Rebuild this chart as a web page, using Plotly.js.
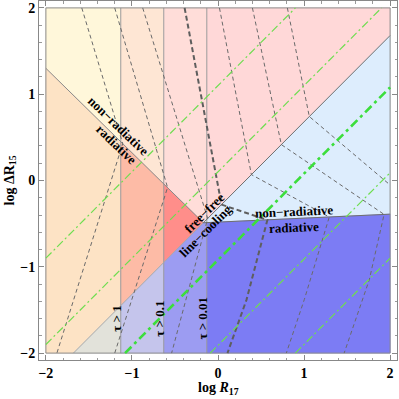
<!DOCTYPE html>
<html><head><meta charset="utf-8">
<script src="https://cdn.plot.ly/plotly-3.0.1.min.js"></script>
<style>html,body{margin:0;padding:0;background:#fff}#chart{width:399px;height:399px}</style>
</head><body><div id="chart"></div>
<script>
// ---- values (x = log R17, y = log ΔR15) ----
const boxLo = -2, boxHi = 2;
const tickVals = [-2, -1, 0, 1, 2];
const tickLabels = ['\u22122', '\u22121', '0', '1', '2'];
const tauX = [-1.13, -0.63, -0.13];
const tauLabels = ['τ > 1', 'τ > 0.1', 'τ > 0.01'];
const nonRadLeftX = [-2.0, -0.17];
const nonRadLeftY = [1.30, -0.49];
const diagX = [-1.68, 2.0];
const diagY = [-2.0, 1.68];
const nonRadRightX = [-0.17, 2.0];
const nonRadRightY = [-0.49, -0.39];

// grey dashed contours
const contourX = [
  [-1.583, -1.107, -1.872],
  [-1.20, -0.586, -1.20],
  [-0.875, -0.12, -0.539],
  [0.017, 0.388, 1.293, 1.003, 0.794],
  [0.40, 0.736, 1.930, 1.757, 1.466],
  [0.806, 1.061, 2.0]
];
const contourY = [
  [2.0, 0.427, -2.0],
  [2.0, -0.081, -2.0],
  [2.0, -0.44, -2.0],
  [2.0, 0.068, -0.423, -1.379, -2.0],
  [2.0, 0.416, -0.393, -1.154, -2.0],
  [2.0, 0.741, -0.052]
];
const boldContourX = [-0.388, 0.041, 0.574, 0.330, 0.110];
const boldContourY = [2.0, -0.279, -0.458, -1.386, -2.0];

// green dash-dot lines
const greenX = [[-2.0, 0.9], [-2.0, 1.9], [-0.09, 2.0], [0.9, 2.0]];
const greenY = [[-0.9, 2.0], [-1.9, 2.0], [-2.0, 0.09], [-2.0, -0.9]];
const boldGreenX = [-1.08, 2.0];
const boldGreenY = [-2.0, 1.08];

// region colours
const regionColors = {
  yellow: '#FFF7DA', orange: '#FDE3C5', grey: '#E2E2DA',
  peach: '#FEE6D4', salmon: '#FDBBA6', lavender: '#C5C5EC',
  pinkTop: '#FFDDD9', red: '#FF8E8A', midBlue: '#9C9CF2',
  pink: '#FFD8D8', lightBlue: '#DDEDFD', blue: '#7C7CF4'
};

// ---- build ----
function lin(xs, ys, x) { return ys[0] + (ys[1] - ys[0]) * (x - xs[0]) / (xs[1] - xs[0]); }
const NR = x => lin(nonRadLeftX, nonRadLeftY, x);
const D = x => lin(diagX, diagY, x);
const HR = x => lin(nonRadRightX, nonRadRightY, x);
const [xa, xb, xc] = tauX;
const Tx = nonRadLeftX[1], Ty = nonRadLeftY[1];
const lo = boxLo, hi = boxHi;

const polys = [
  ['yellow', [[lo, NR(lo)], [xa, NR(xa)], [xa, hi], [lo, hi]]],
  ['orange', [[lo, NR(lo)], [xa, NR(xa)], [xa, D(xa)], [diagX[0], lo], [lo, lo]]],
  ['grey', [[diagX[0], lo], [xa, D(xa)], [xa, lo]]],
  ['peach', [[xa, NR(xa)], [xb, NR(xb)], [xb, hi], [xa, hi]]],
  ['salmon', [[xa, NR(xa)], [xb, NR(xb)], [xb, D(xb)], [xa, D(xa)]]],
  ['lavender', [[xa, D(xa)], [xb, D(xb)], [xb, lo], [xa, lo]]],
  ['pinkTop', [[xb, NR(xb)], [Tx, Ty], [xc, D(xc)], [xc, hi], [xb, hi]]],
  ['red', [[xb, NR(xb)], [Tx, Ty], [xb, D(xb)]]],
  ['lightBlue', [[Tx, Ty], [xc, D(xc)], [xc, HR(xc)]]],
  ['midBlue', [[xb, D(xb)], [Tx, Ty], [xc, HR(xc)], [xc, lo], [xb, lo]]],
  ['pink', [[xc, D(xc)], [hi, D(hi)], [hi, hi], [xc, hi]]],
  ['lightBlue', [[xc, D(xc)], [hi, D(hi)], [hi, HR(hi)], [xc, HR(xc)]]],
  ['blue', [[xc, HR(xc)], [hi, HR(hi)], [hi, lo], [xc, lo]]]
];

const traces = [];
polys.forEach(([name, pts]) => {
  traces.push({
    type: 'scatter', mode: 'lines', fill: 'toself',
    x: pts.map(p => p[0]).concat([pts[0][0]]),
    y: pts.map(p => p[1]).concat([pts[0][1]]),
    fillcolor: regionColors[name],
    line: { width: 0.6, color: regionColors[name] },
    hoverinfo: 'skip', showlegend: false
  });
});

function line(x, y, color, width, dash) {
  traces.push({ type: 'scatter', mode: 'lines', x: x, y: y,
    line: { color: color, width: width, dash: dash || 'solid' },
    hoverinfo: 'skip', showlegend: false });
}
// region boundaries
tauX.forEach(v => line([v, v], [lo, hi], '#9c9c9c', 1));
line(nonRadLeftX, nonRadLeftY, '#8a8a8a', 1);
line([diagX[0], Tx], [diagY[0], Ty], '#a8a8a8', 1);
line([Tx, diagX[1]], [Ty, diagY[1]], '#6e6e6e', 1);
line(nonRadRightX, nonRadRightY, '#6e6e6e', 1);
line([lo, hi, hi, lo, lo], [lo, lo, hi, hi, lo], '#8a8a8a', 1);

// contours
contourX.forEach((cx, i) => line(cx, contourY[i], '#6a6a6a', 1, '4px,3px'));
line(boldContourX, boldContourY, '#5e5e5e', 2, '5px,3px');
greenX.forEach((gx, i) => line(gx, greenY[i], 'rgb(110,222,80)', 1.2, '8px,3px,2px,3px'));
line(boldGreenX, boldGreenY, 'rgb(60,222,60)', 2.6, '9px,4px,3px,4px');

const F = 'Liberation Serif, Times New Roman, serif';
const fnt = { family: F, size: 13, color: '#000', weight: 'bold' };
function ann(text, x, y, angle) {
  return { text: '<b>' + text + '</b>', x: x, y: y, xref: 'x', yref: 'y', showarrow: false,
    textangle: angle, font: fnt };
}
const annotations = [
  ann('non\u2212radiative', -1.165, 0.632, 44),
  ann('radiative', -1.183, 0.412, 44),
  ann('free\u2212free', -0.168, -0.377, -45),
  ann('line\u2212cooling', -0.139, -0.585, -45),
  ann('non\u2212radiative', 0.887, -0.354, -2.5),
  ann('radiative', 0.887, -0.539, -2.5),
  ann(tauLabels[0], -1.183, -1.60, -90),
  ann(tauLabels[1], -0.684, -1.60, -90),
  ann(tauLabels[2], -0.174, -1.60, -90),
  { text: '<b>log <i>R</i><sub>17</sub></b>', xref: 'paper', yref: 'paper', x: 0.50, y: -0.08,
    xanchor: 'center', yanchor: 'middle',
    showarrow: false, font: { family: F, size: 14, color: '#000', weight: 'bold' } },
  { text: '<b>log \u0394R<sub>15</sub></b>', xref: 'paper', yref: 'paper', x: -0.081, y: 0.50,
    xanchor: 'center', yanchor: 'middle',
    showarrow: false, textangle: -90, font: { family: F, size: 14, color: '#000', weight: 'bold' } }
];

const axisCommon = {
  range: [-2.08, 2.08], showgrid: false, zeroline: false,
  showline: true, linecolor: '#888', linewidth: 1, mirror: 'allticks',
  ticks: 'inside', ticklen: 5, tickcolor: '#888', tickwidth: 1,
  tickmode: 'array', tickvals: tickVals, ticktext: tickLabels.map(t => '<b>' + t + '</b>'),
  minor: { ticks: 'inside', ticklen: 2.5, dtick: 0.2, tick0: 0, tickcolor: '#999', showgrid: false },
  tickfont: { family: F, size: 14, color: '#000', weight: 'bold' },
  fixedrange: true
};
const layout = {
  width: 399, height: 399,
  margin: { l: 39, r: 2, t: 1, b: 39 },
  paper_bgcolor: '#fff', plot_bgcolor: '#fff',
  xaxis: Object.assign({}, axisCommon),
  yaxis: Object.assign({}, axisCommon),
  annotations: annotations,
  showlegend: false
};
Plotly.newPlot('chart', traces, layout, { staticPlot: true });
</script></body></html>
